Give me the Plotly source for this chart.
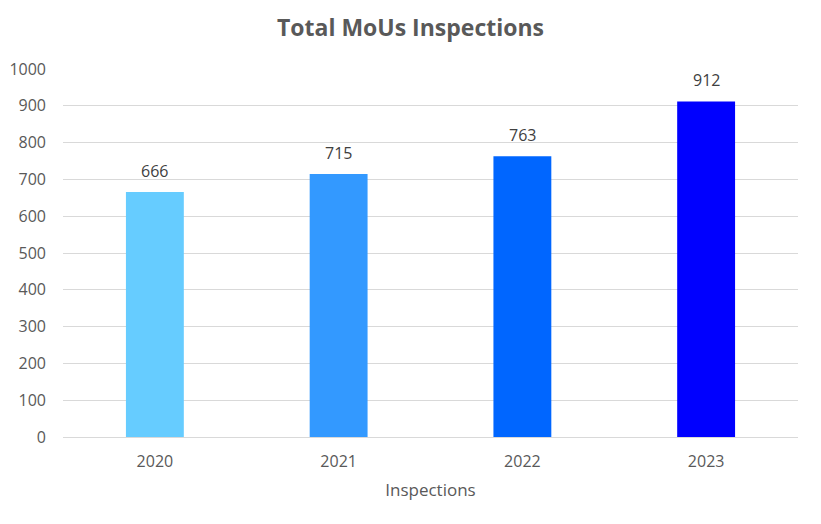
import plotly.graph_objects as go

years = ["2020", "2021", "2022", "2023"]
inspections = [666, 715, 763, 912]
bar_colors = ["#66CCFF", "#3399FF", "#0066FF", "#0000FF"]
y_ticks = [0, 100, 200, 300, 400, 500, 600, 700, 800, 900, 1000]

font_family = "Open Sans, Liberation Sans, sans-serif"

fig = go.Figure(
    go.Bar(
        x=years,
        y=inspections,
        marker=dict(color=bar_colors, line=dict(width=0)),
        width=0.315,
        hoverinfo="x+y",
    )
)

# category axis: annotations placed by category index
annotations = [
    dict(x=i, y=v, xref="x", yref="y", text=str(v), showarrow=False,
         yanchor="bottom", yshift=8,
         font=dict(family=font_family, size=16, color="#404040"))
    for i, v in enumerate(inspections)
]

fig.update_layout(
    width=821,
    height=524,
    paper_bgcolor="white",
    plot_bgcolor="white",
    margin=dict(l=55, r=31, t=61, b=95, autoexpand=False),
    showlegend=False,
    annotations=annotations,
    title=dict(
        text="<b>Total MoUs Inspections</b>",
        x=402.5 / 821,
        xanchor="center",
        y=1 - 20 / 524,
        yanchor="middle",
        font=dict(family=font_family, size=23, color="#595959"),
    ),
    xaxis=dict(
        type="category",
        categoryorder="array",
        categoryarray=years,
        range=[-0.5, len(years) - 0.5],
        automargin=False,
        title=dict(text="Inspections", font=dict(family=font_family, size=17, color="#595959"), standoff=12),
        tickfont=dict(family=font_family, size=16, color="#595959"),
        showgrid=False,
        showline=True,
        linecolor="#D9D9D9",
        linewidth=1,
        ticks="",
        ticklabelstandoff=10,
    ),
    yaxis=dict(
        range=[0, 1000],
        tickvals=y_ticks,
        automargin=False,
        tickfont=dict(family=font_family, size=16, color="#595959"),
        showgrid=True,
        gridcolor="#D9D9D9",
        gridwidth=1,
        zeroline=False,
        ticks="",
        ticklabelstandoff=16,
    ),
    shapes=[
        dict(type="line", xref="paper", yref="paper", x0=1.0293, x1=1.0293, y0=-0.3, y1=1.3,
             line=dict(color="#D0D0D0", width=2)),
    ],
)

fig.write_html("out.html")
